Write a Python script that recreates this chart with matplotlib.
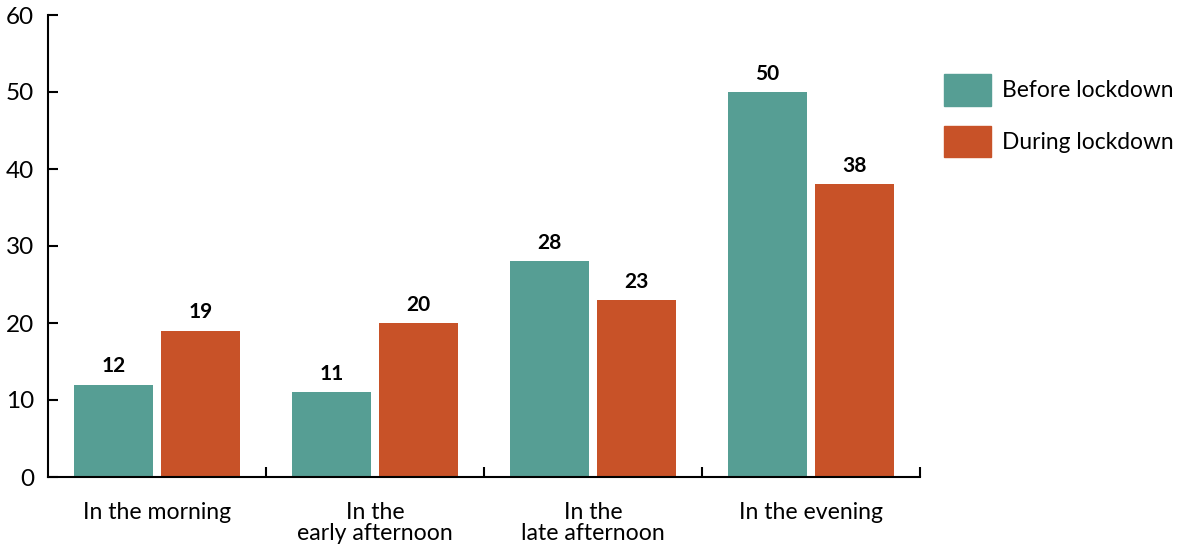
import matplotlib.pyplot as plt
import numpy as np
from matplotlib.patches import Patch

plt.rcParams['font.family'] = ['Lato', 'DejaVu Sans']

categories = ["In the morning", "In the\nearly afternoon", "In the\nlate afternoon", "In the evening"]
before = [12, 11, 28, 50]
during = [19, 20, 23, 38]
series_names = ["Before lockdown", "During lockdown"]

teal = "#569E94"
orange = "#C85228"

fig = plt.figure(figsize=(11.77, 5.47), dpi=100)
ax = fig.add_axes([48 / 1177, 1 - 477 / 547, (920 - 48) / 1177, (477 - 15) / 547])

x = np.arange(len(categories))
w = 0.362
b1 = ax.bar(x - 0.2, before, w, color=teal)
b2 = ax.bar(x + 0.2, during, w, color=orange)

for bars, vals in ((b1, before), (b2, during)):
    for bar, v in zip(bars, vals):
        ax.annotate(str(v), (bar.get_x() + bar.get_width() / 2, v),
                    xytext=(0, 6), textcoords="offset points",
                    ha="center", va="bottom", fontsize=15, fontweight="bold")

ax.set_xlim(-0.5, 3.5)
ax.set_ylim(0, 60)
ax.set_yticks(range(0, 61, 10))
ax.tick_params(axis="y", direction="in", length=7, width=1.5, labelsize=17.5, pad=10)

ax.set_xticks(x)
ax.set_xticklabels(categories, linespacing=1.0)
ax.tick_params(axis="x", which="major", length=0, labelsize=16.6, pad=18)
ax.set_xticks(np.arange(0.5, 4, 1), minor=True)
ax.tick_params(axis="x", which="minor", direction="in", length=7, width=1.5)

for s in ("top", "right"):
    ax.spines[s].set_visible(False)
for s in ("left", "bottom"):
    ax.spines[s].set_linewidth(1.5)

handles = [Patch(color=teal), Patch(color=orange)]
fig.legend(handles, series_names, loc="upper left", bbox_to_anchor=(944 / 1177, 1 - 74 / 547),
           frameon=False, fontsize=16.4, handlelength=2.05, handleheight=1.78,
           labelspacing=0.86, handletextpad=0.5, borderpad=0, borderaxespad=0)

fig.savefig("out.png", dpi=100)
